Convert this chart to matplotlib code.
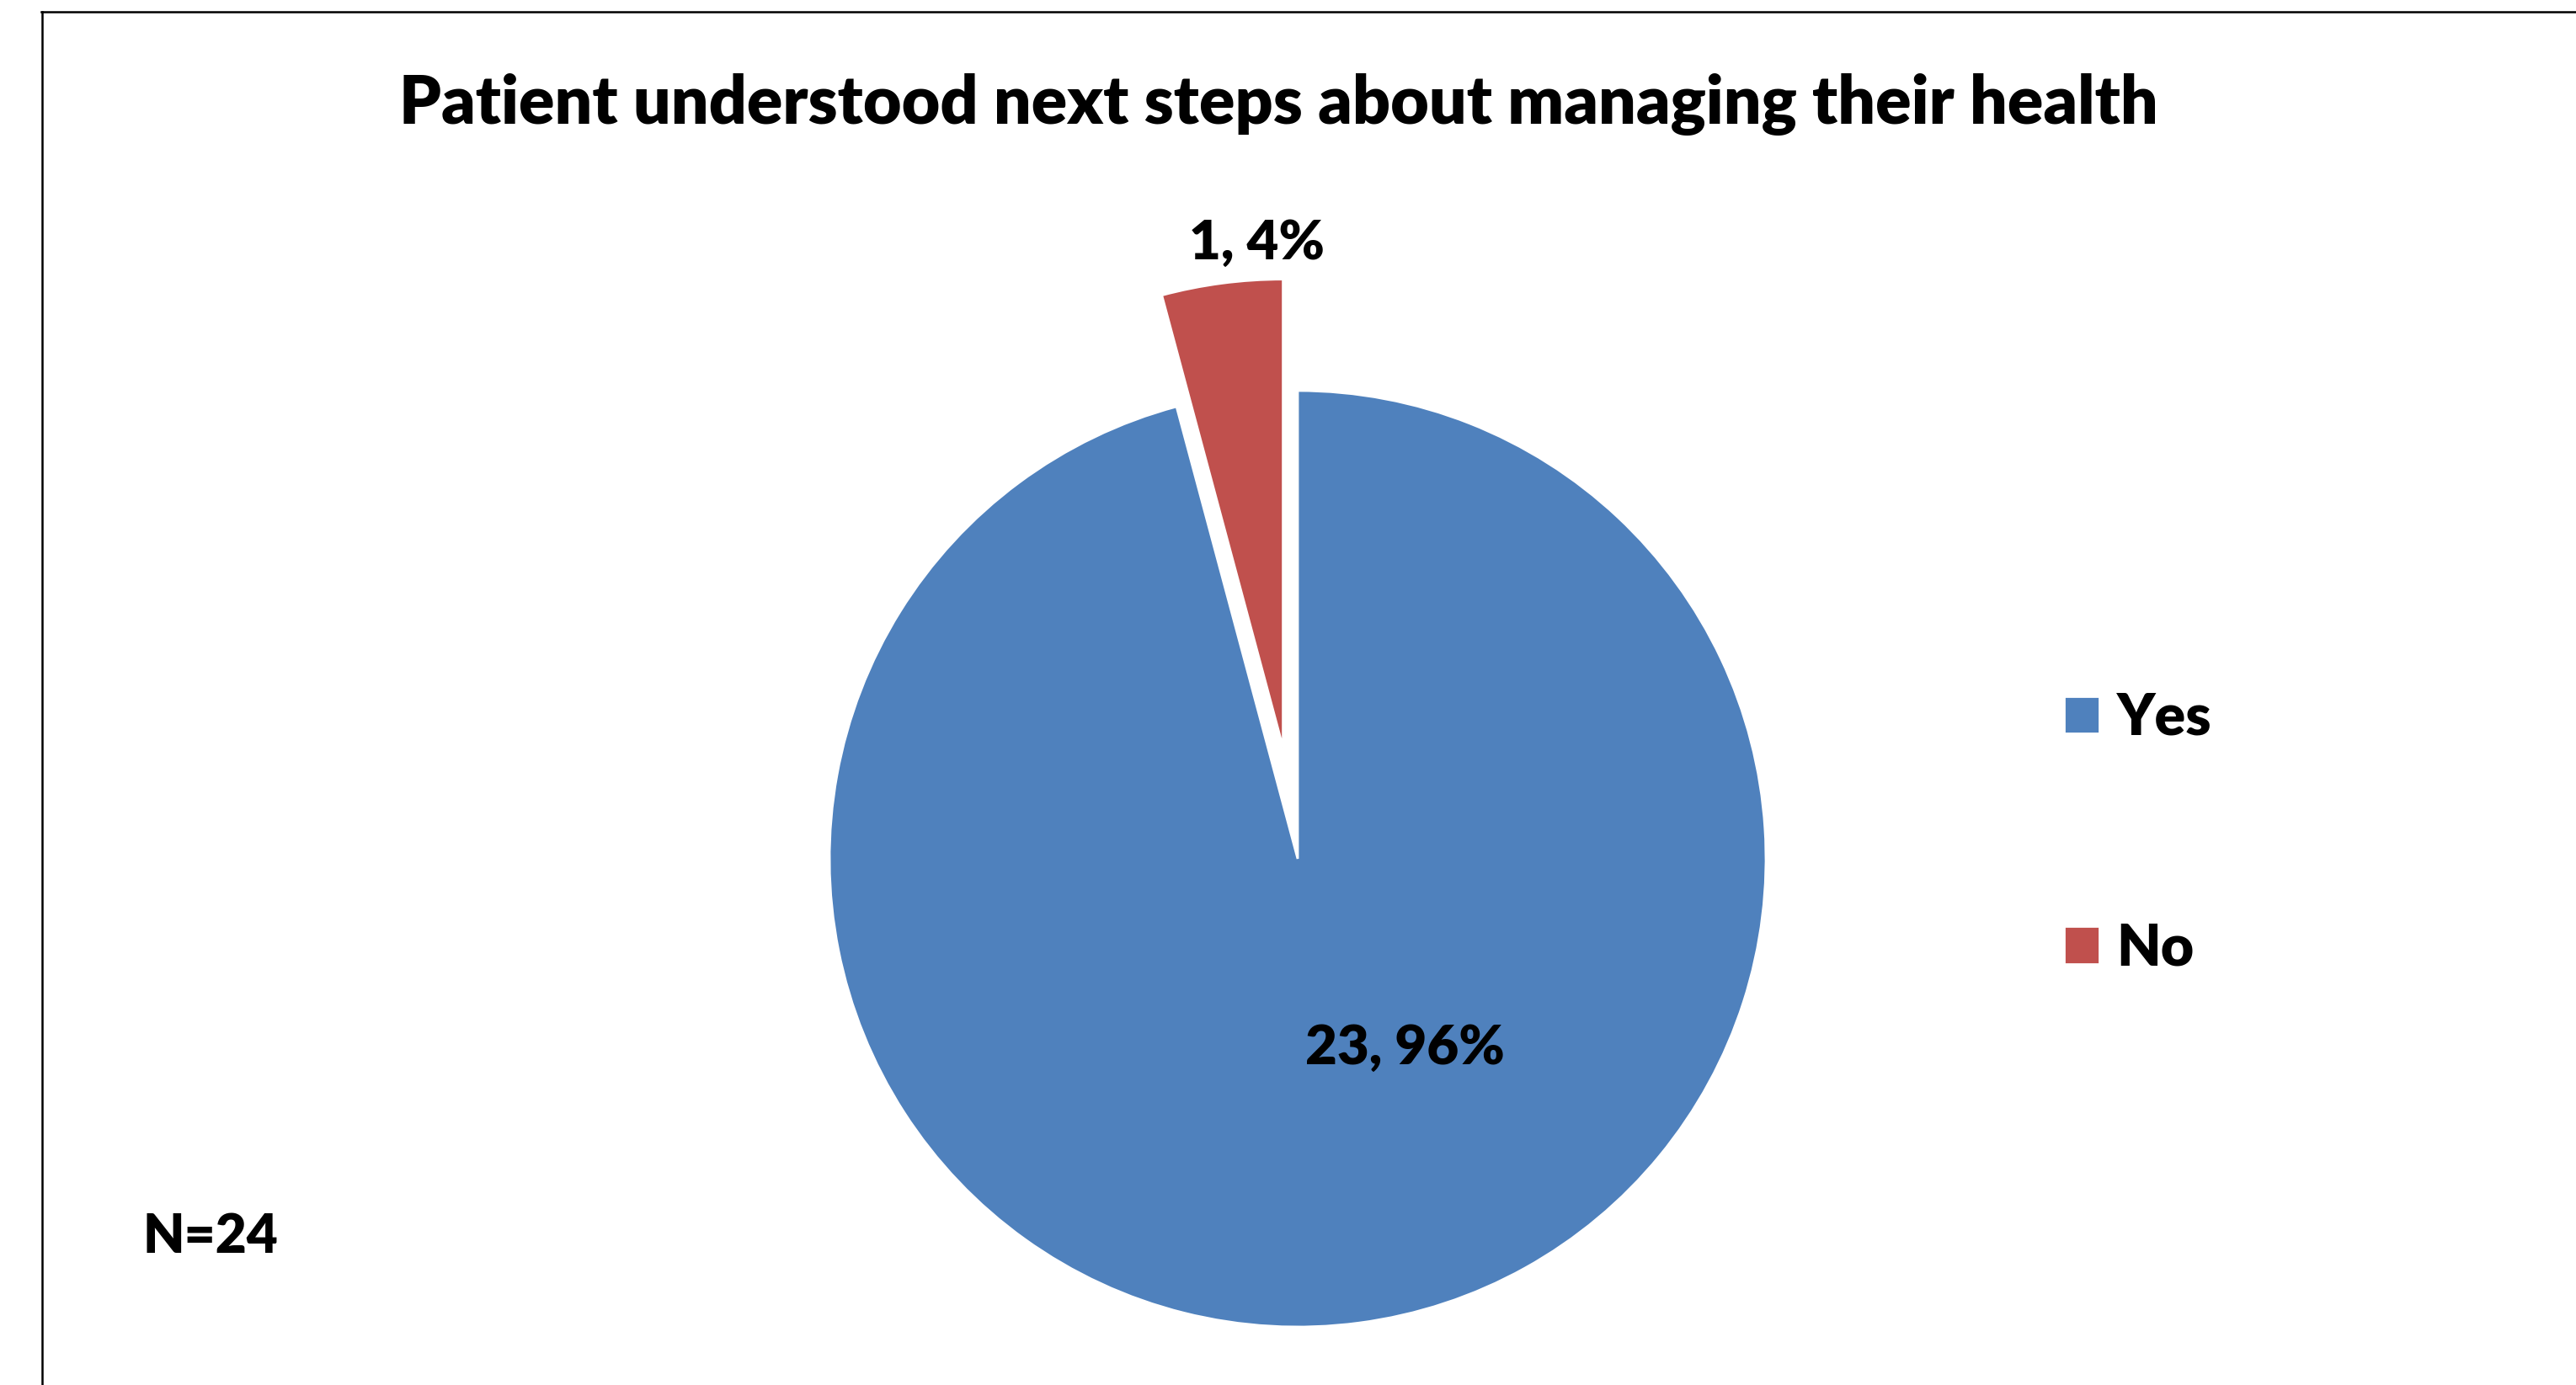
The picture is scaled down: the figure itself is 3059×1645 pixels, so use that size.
import matplotlib
matplotlib.use("Agg")
import matplotlib.pyplot as plt
from matplotlib.lines import Line2D
import numpy as np

categories = ["Yes", "No"]
counts = [23, 1]
percents = [96, 4]
title = "Patient understood next steps about managing their health"
n_text = "N=24"
colors = ["#4F81BD", "#C0504D"]

W, H = 3059, 1645
DPI = 100
plt.rcParams['font.family'] = ['Lato', 'DejaVu Sans']
fig = plt.figure(figsize=(W / DPI, H / DPI), dpi=DPI)
fig.patch.set_facecolor("white")

ax = fig.add_axes([0, 0, 1, 1])
cx, cy, r = 1541, H - 1020, 556
explode_frac = [0, 0.24]
wedges, _ = ax.pie(counts, colors=colors, startangle=90, counterclock=False,
                   explode=[e * r for e in explode_frac], center=(cx, cy), radius=r,
                   wedgeprops=dict(edgecolor="white", linewidth=2))
ax.set_xlim(0, W)
ax.set_ylim(0, H)
ax.set_aspect("auto")
ax.axis("off")

# data labels
lab_pos = [(1668, 1245), (1492, 289)]
for (x, y), c, p in zip(lab_pos, counts, percents):
    ax.text(x, H - y, f"{c}, {p}%", ha="center", va="center",
            fontsize=47, fontweight="heavy", color="black")

fig.text(1518 / W, 1 - 124 / H, title, ha="center", va="center",
         fontsize=56.7, fontweight="heavy")
fig.text(250 / W, 1 - 1469 / H, n_text, ha="center", va="center",
         fontsize=46, fontweight="heavy")

leg = fig.legend(wedges, categories, loc="center left",
                 bbox_to_anchor=(2451 / W, 1 - 990 / H), frameon=False,
                 prop=dict(weight="heavy", size=49),
                 handlelength=0.62, handleheight=0.62, handletextpad=0.3,
                 labelspacing=3.1, borderpad=0, borderaxespad=0)

# outer border lines
fig.add_artist(Line2D([49 / W, 1.0], [1 - 14 / H, 1 - 14 / H],
                      transform=fig.transFigure, color="black", lw=1.8))
fig.add_artist(Line2D([50 / W, 50 / W], [1 - 14 / H, 0],
                      transform=fig.transFigure, color="black", lw=1.8))

fig.savefig("out.png", dpi=DPI, facecolor="white")
